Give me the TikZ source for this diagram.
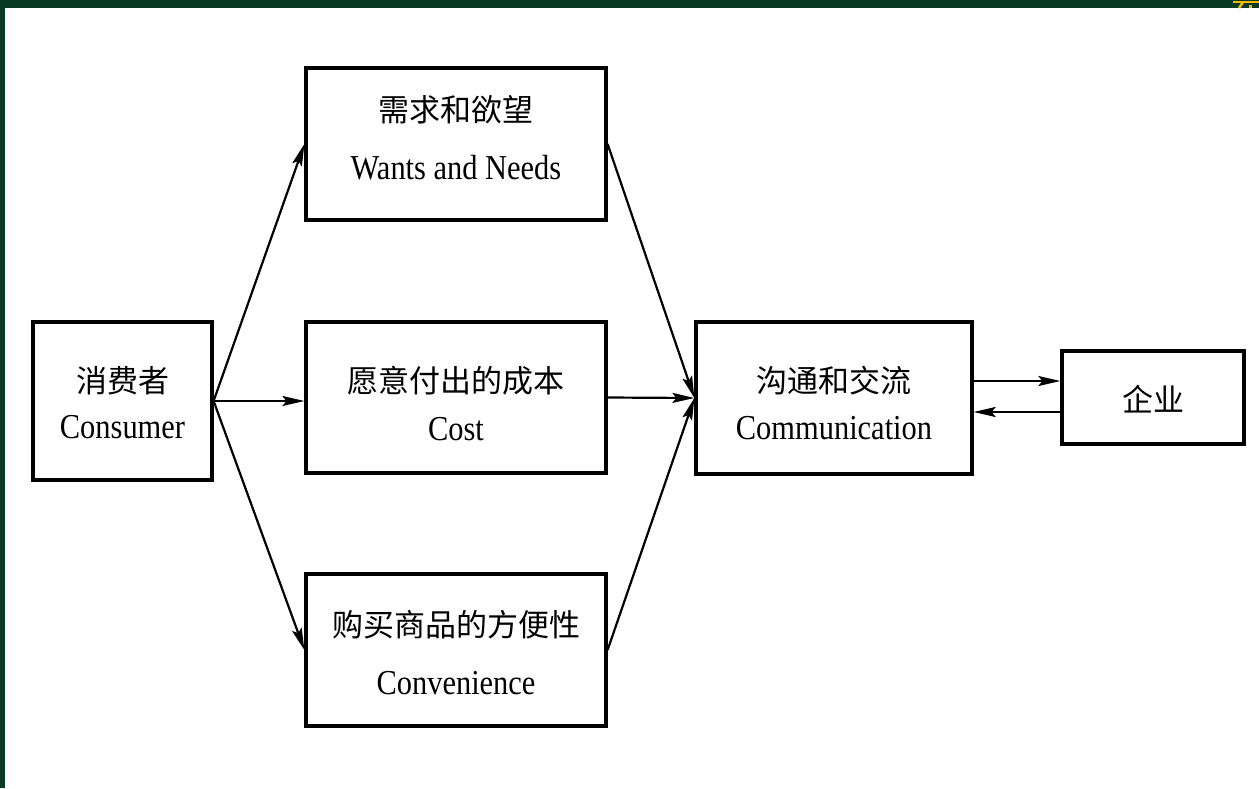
\documentclass[tikz,border=0pt]{standalone}
\usepackage{fontspec}
\setmainfont[FakeStretch=0.87]{Liberation Serif}
\newfontfamily\cjk{Noto Sans CJK SC}
\usetikzlibrary{arrows.meta,calc}
\definecolor{bandgreen}{HTML}{0A3A24}
\definecolor{glyphyellow}{HTML}{F2B705}
\begin{document}
\begin{tikzpicture}[x=1pt,y=-1pt,
  box/.style={draw=black,line width=3.2pt,rectangle,inner sep=0pt},
  zh/.style={anchor=base,inner sep=0pt,font=\cjk\fontsize{31}{36}\selectfont},
  en/.style={anchor=base,inner sep=0pt,font=\fontsize{35}{40}\selectfont},
  conn/.style={line width=2.2pt,-{Stealth[length=22pt,width=10pt,inset=4pt]}}]
\useasboundingbox (0,0) rectangle (1259,788);
\fill[white] (0,0) rectangle (1259,788);
\fill[bandgreen] (0,0) rectangle (1259,8);
\fill[bandgreen] (0,0) rectangle (5,788);
\draw[glyphyellow,line width=2pt] (1233,1.5) -- (1259,1.5);
\draw[glyphyellow,line width=2.5pt] (1243,2) -- (1239,8);
\fill[glyphyellow] (1249,5) rectangle (1252,8);
% boxes
\node[box,minimum width=179pt,minimum height=158pt] (consumer) at (122.5,401) {};
\node[box,minimum width=300pt,minimum height=152pt] (wants) at (456,144) {};
\node[box,minimum width=300pt,minimum height=151pt] (cost) at (456,397.5) {};
\node[box,minimum width=300pt,minimum height=152pt] (conv) at (456,650) {};
\node[box,minimum width=276pt,minimum height=152pt] (comm) at (834,398) {};
\node[box,minimum width=182pt,minimum height=93pt] (qiye) at (1153,397.5) {};
% texts
\node[zh] (consumerzh) at (122.5,392) {消费者};
\node[en] (consumeren) at (122.5,438) {Consumer};
\node[zh] (wantszh) at (456,121) {需求和欲望};
\node[en] (wantsen) at (456,179) {Wants and Needs};
\node[zh] (costzh) at (456,392) {愿意付出的成本};
\node[en] (costen) at (456,440) {Cost};
\node[zh] (convzh) at (456,636) {购买商品的方便性};
\node[en] (conven) at (456,694) {Convenience};
\node[zh] (commzh) at (834,392) {沟通和交流};
\node[en] (commen) at (834,439) {Communication};
\node[zh] (qiyezh) at (1153,411) {企业};
% connectors
\draw[conn] (consumer.east) -- (wants.west);
\draw[conn] (consumer.east) -- (consumer.east -| cost.west);
\draw[conn] (consumer.east) -- (conv.west);
\draw[conn] (wants.east) -- (comm.west);
\draw[conn] (cost.east) -- (comm.west);
\draw[conn] (conv.east) -- (comm.west);
\draw[conn] ([yshift=17pt]comm.east) -- ([yshift=17pt]comm.east -| qiye.west);
\draw[conn] ([yshift=-14pt]comm.east -| qiye.west) -- ([yshift=-14pt]comm.east);
\end{tikzpicture}
\end{document}
